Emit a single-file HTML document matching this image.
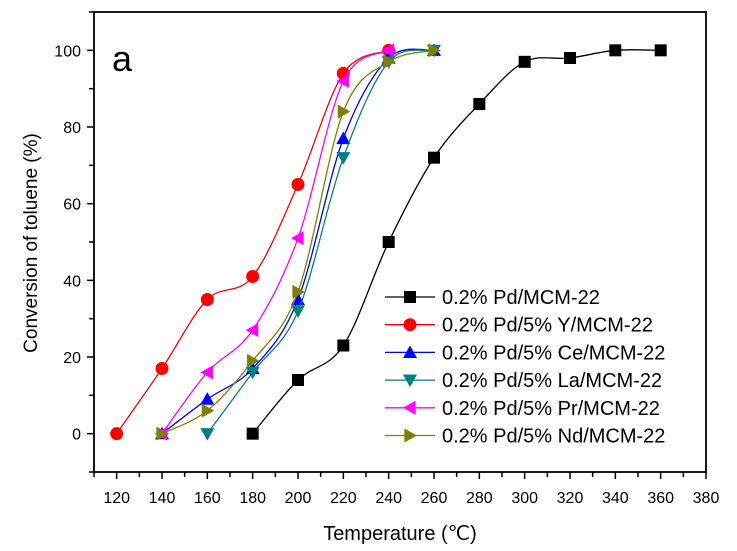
<!DOCTYPE html>
<html><head><meta charset="utf-8"><style>
body{margin:0;background:#fff;}
svg{display:block;font-family:"Liberation Sans",Arial,sans-serif;}
</style></head><body>
<svg id="chart" width="737" height="551"></svg>
<script>
const temps = {
  pd:[180,200,220,240,260,280,300,320,340,360],
  y:[120,140,160,180,200,220,240],
  ce:[140,160,180,200,220,240,260],
  pr:[140,160,180,200,220,240],
  nd:[140,160,180,200,220,240,260]
};
const pdVals=[0,14,23,50,72,86,97,98,100,100];
const yVals=[0,17,35,41,65,94,100];
const ceVals=[0,9,17,35,77,98,100];
const laVals=[0,16,32,72,97,100];
const prVals=[0,16,27,51,92,100];
const ndVals=[0,6,19,37,84,97,100];
const laTemps=[160,180,200,220,240,260];
const xTicks=[120,140,160,180,200,220,240,260,280,300,320,340,360,380];
const yTicks=[0,20,40,60,80,100];
const seriesNames=["0.2% Pd/MCM-22","0.2% Pd/5% Y/MCM-22","0.2% Pd/5% Ce/MCM-22","0.2% Pd/5% La/MCM-22","0.2% Pd/5% Pr/MCM-22","0.2% Pd/5% Nd/MCM-22"];

const NS="http://www.w3.org/2000/svg";
const svg=document.getElementById('chart');
const L=94,R=706,T=12,B=472,X0=110,X1=380,Y0=-10,Y1=110;
const sx=v=>L+(v-X0)/(X1-X0)*(R-L);
const sy=v=>B-(v-Y0)/(Y1-Y0)*(B-T);
function mk(tag,attrs,parent){const e=document.createElementNS(NS,tag);for(const k in attrs)e.setAttribute(k,attrs[k]);(parent||svg).appendChild(e);return e;}

const frame=mk('rect',{x:L,y:T,width:R-L,height:B-T,fill:'none',stroke:'#000','stroke-width':1.8});


for(let v=X0;v<=X1;v+=10){
  const major=(v-120)%20===0;
  const t=mk('line',{x1:sx(v),x2:sx(v),y1:B,y2:B+(major?7:5),stroke:'#000','stroke-width':1.5});
  
  
}
xTicks.forEach(v=>{
  const t=mk('text',{x:sx(v),y:B+31,'font-size':16,'text-anchor':'middle'});t.textContent=v;
  
  
});
for(let v=-10;v<=110;v+=10){
  const major=v%20===0;
  const t=mk('line',{x1:L,x2:L-(major?7:5),y1:sy(v),y2:sy(v),stroke:'#000','stroke-width':1.5});
  
  
}
yTicks.forEach(v=>{
  const t=mk('text',{x:L-13,y:sy(v)+6,'font-size':16,'text-anchor':'end'});t.textContent=v;
  
  
});
const xt=mk('text',{x:400,y:540,'font-size':20,'text-anchor':'middle'});xt.textContent='Temperature (℃)';


const yt=mk('text',{x:0,y:0,'font-size':19,'text-anchor':'middle',transform:'translate(37,243) rotate(-90)'});yt.textContent='Conversion of toluene (%)';


const pl=mk('text',{x:112,y:71,'font-size':36});pl.textContent='a';



function spline(pts){
  let d=`M${pts[0][0]},${pts[0][1]}`;
  for(let i=0;i<pts.length-1;i++){
    const p0=pts[Math.max(0,i-1)],p1=pts[i],p2=pts[i+1],p3=pts[Math.min(pts.length-1,i+2)];
    const c1=[p1[0]+(p2[0]-p0[0])/6,p1[1]+(p2[1]-p0[1])/6];
    const c2=[p2[0]-(p3[0]-p1[0])/6,p2[1]-(p3[1]-p1[1])/6];
    d+=` C${c1[0]},${c1[1]} ${c2[0]},${c2[1]} ${p2[0]},${p2[1]}`;
  }
  return d;
}
function marker(type,x,y,color,parent){
  const s=7;let e;
  if(type==='square')e=mk('rect',{x:x-6,y:y-6,width:12,height:12,fill:color},parent);
  else if(type==='circle')e=mk('circle',{cx:x,cy:y,r:6.5,fill:color},parent);
  else{
    let p;
    if(type==='up')p=[[x,y-s],[x-s,y+s*0.8],[x+s,y+s*0.8]];
    if(type==='down')p=[[x,y+s],[x-s,y-s*0.8],[x+s,y-s*0.8]];
    if(type==='left')p=[[x-s,y],[x+s*0.8,y-s],[x+s*0.8,y+s]];
    if(type==='right')p=[[x+s,y],[x-s*0.8,y-s],[x-s*0.8,y+s]];
    e=mk('polygon',{points:p.map(q=>q.join(',')).join(' '),fill:color},parent);
  }
  return e;
}
const series=[
  {t:temps.pd,v:pdVals,c:'#000000',m:'square',n:'pd'},
  {t:temps.y,v:yVals,c:'#ff0000',m:'circle',n:'y'},
  {t:temps.ce,v:ceVals,c:'#0000ff',m:'up',n:'ce'},
  {t:laTemps,v:laVals,c:'#008080',m:'down',n:'la'},
  {t:temps.pr,v:prVals,c:'#ff00ff',m:'left',n:'pr'},
  {t:temps.nd,v:ndVals,c:'#808000',m:'right',n:'nd'}
];
series.forEach((s,si)=>{
  const g=mk('g',{});
  
  
  const pts=s.t.map((t,i)=>[sx(t),sy(s.v[i])]);
  const path=mk('path',{d:spline(pts),fill:'none',stroke:s.c,'stroke-width':1.3},g);
  
  
  s.t.forEach((t,i)=>{
    const m=marker(s.m,sx(t),sy(s.v[i]),s.c,g);
    
    
  });
  const ly=297+si*27.7;
  const lg=mk('g',{});
  
  
  mk('line',{x1:385,x2:435,y1:ly,y2:ly,stroke:s.c,'stroke-width':1.3},lg);
  marker(s.m,410,ly,s.c,lg);
  const tx=mk('text',{x:442,y:ly+7,'font-size':20},lg);tx.textContent=seriesNames[si];
});
</script>
</body></html>
